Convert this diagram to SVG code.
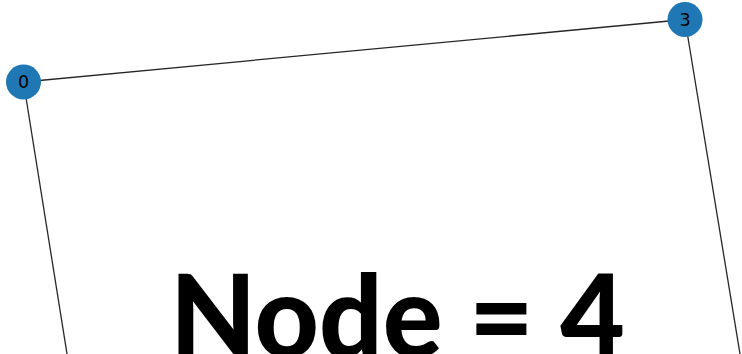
<svg xmlns="http://www.w3.org/2000/svg" width="742" height="354" viewBox="0 0 742 354">
<style>
.edge{stroke:#000;stroke-width:1.3;stroke-opacity:0.85;fill:none}
.node circle{fill:#1f78b4}
.node text{font-family:"DejaVu Sans",sans-serif;font-size:17.5px;fill:#000;text-anchor:middle;dominant-baseline:central}
.title{font-family:Lato,"Liberation Sans",Arial,sans-serif;font-weight:900;font-size:115px;fill:#000}
</style>
<rect width="742" height="354" fill="#fff"/>
<g id="edges">
<line class="edge" x1="23.5" y1="82" x2="685" y2="19.5"/>
<line class="edge" x1="23.5" y1="82" x2="68" y2="360"/>
<line class="edge" x1="685" y1="19.5" x2="741" y2="360"/>
</g>
<g id="node0" class="node"><circle cx="23.5" cy="82" r="17.5"/><text x="23.5" y="82">0</text></g>
<g id="node3" class="node"><circle cx="685" cy="19.5" r="17.5"/><text x="685" y="19.5">3</text></g>
<text class="title" x="170" y="357" textLength="455" lengthAdjust="spacingAndGlyphs">Node = 4</text>
</svg>
